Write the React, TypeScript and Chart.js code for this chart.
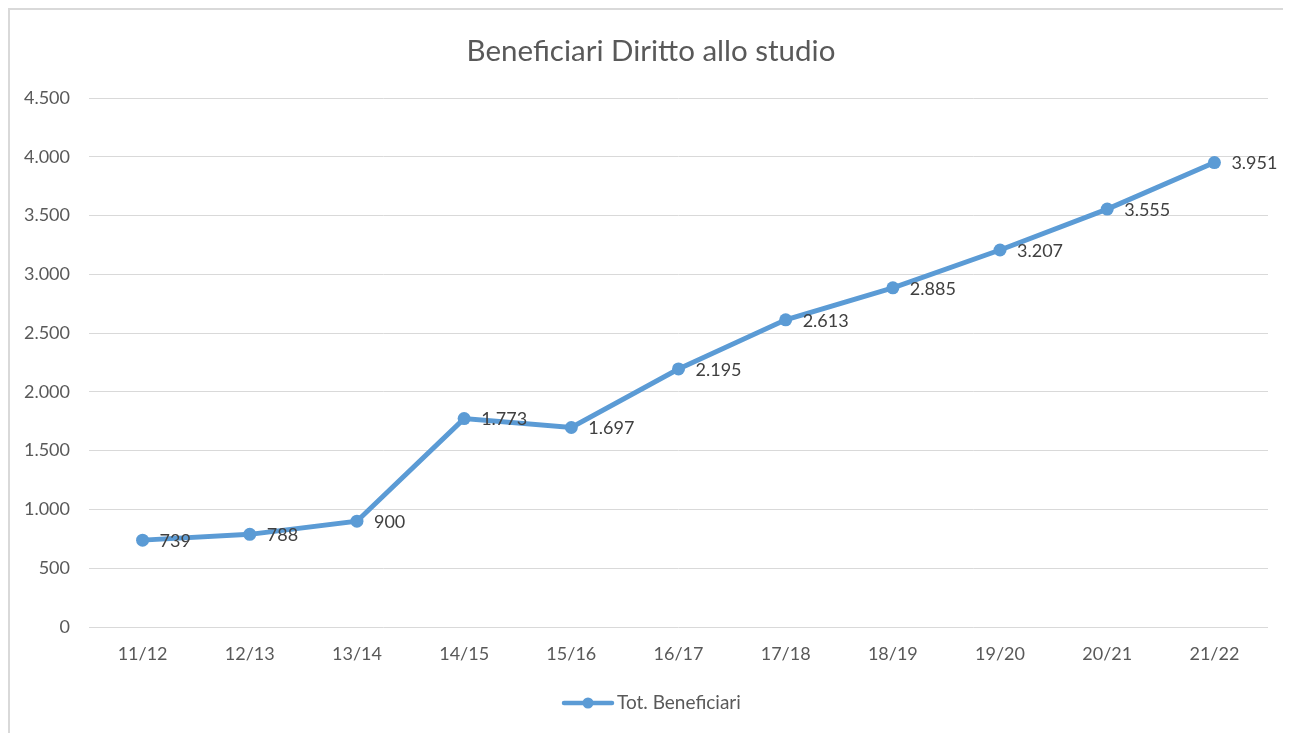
import React, { useEffect, useRef } from "react";
import { Chart, registerables } from "chart.js";

Chart.register(...registerables);

const categories = ["11/12", "12/13", "13/14", "14/15", "15/16", "16/17", "17/18", "18/19", "19/20", "20/21", "21/22"];
const beneficiari = [739, 788, 900, 1773, 1697, 2195, 2613, 2885, 3207, 3555, 3951];
const seriesName = "Tot. Beneficiari";
const chartTitle = "Beneficiari Diritto allo studio";
const yMin = 0;
const yMax = 4500;
const yStep = 500;

const FONT = "Lato, 'Open Sans', sans-serif";
const LINE_COLOR = "#5B9BD5";
const TEXT_COLOR = "#595959";

const fmt = (v: number) => String(Math.round(v)).replace(/\B(?=(\d{3})+(?!\d))/g, ".");

const dataLabelPlugin = {
  id: "dataLabels",
  afterDatasetsDraw(chart: any) {
    const ctx = chart.ctx;
    const meta = chart.getDatasetMeta(0);
    ctx.save();
    ctx.font = `18px ${FONT}`;
    ctx.fillStyle = "#404040";
    ctx.textAlign = "left";
    ctx.textBaseline = "middle";
    meta.data.forEach((pt: any, i: number) => {
      const v = chart.data.datasets[0].data[i];
      ctx.fillText(fmt(v), pt.x + 17, pt.y + 1);
    });
    ctx.restore();
  },
};

const titlePlugin = {
  id: "customTitle",
  afterDraw(chart: any) {
    const ctx = chart.ctx;
    ctx.save();
    ctx.font = `29.5px ${FONT}`;
    ctx.fillStyle = TEXT_COLOR;
    ctx.textAlign = "center";
    ctx.textBaseline = "middle";
    ctx.fillText(chartTitle, 641, 41.5);
    ctx.restore();
  },
};

const legendPlugin = {
  id: "customLegend",
  afterDraw(chart: any) {
    const ctx = chart.ctx;
    const cx = 578;
    const y = 693;
    ctx.save();
    ctx.strokeStyle = LINE_COLOR;
    ctx.lineWidth = 4.5;
    ctx.lineCap = "round";
    ctx.beginPath();
    ctx.moveTo(cx - 24, y);
    ctx.lineTo(cx + 24, y);
    ctx.stroke();
    ctx.fillStyle = LINE_COLOR;
    ctx.beginPath();
    ctx.arc(cx, y, 5.5, 0, Math.PI * 2);
    ctx.fill();
    ctx.font = `19px ${FONT}`;
    ctx.fillStyle = TEXT_COLOR;
    ctx.textAlign = "left";
    ctx.textBaseline = "middle";
    ctx.fillText(seriesName, cx + 29, y);
    ctx.restore();
  },
};

export default function App() {
  const ref = useRef<HTMLCanvasElement | null>(null);

  useEffect(() => {
    document.documentElement.style.overflow = "hidden";
    document.body.style.overflow = "hidden";
    if (!ref.current) return;
    const chart = new Chart(ref.current, {
      type: "line",
      data: {
        labels: categories,
        datasets: [
          {
            label: seriesName,
            data: beneficiari,
            borderColor: LINE_COLOR,
            backgroundColor: LINE_COLOR,
            borderWidth: 5,
            pointRadius: 6.5,
            pointBorderWidth: 0,
            pointBackgroundColor: LINE_COLOR,
            tension: 0,
            fill: false,
          },
        ],
      },
      options: {
        animation: false,
        responsive: false,
        maintainAspectRatio: false,
        layout: { padding: { left: 0, right: 20, top: 88, bottom: 0 } },
        plugins: {
          legend: { display: false },
          tooltip: { enabled: false },
          title: { display: false },
        },
        scales: {
          x: {
            type: "category",
            offset: true,
            grid: { display: false, drawTicks: false },
            border: { display: false },
            ticks: {
              color: TEXT_COLOR,
              font: { family: FONT, size: 18 },
              padding: 16,
              maxRotation: 0,
              autoSkip: false,
            },
            afterFit(scale: any) {
              scale.height = 723 - 617;
            },
          },
          y: {
            min: yMin,
            max: yMax,
            grid: { color: "#d9d9d9", lineWidth: 1, drawTicks: false },
            border: { display: false },
            ticks: {
              stepSize: yStep,
              color: TEXT_COLOR,
              font: { family: FONT, size: 18 },
              padding: 19,
              callback: (v: any) => fmt(Number(v)),
            },
            afterFit(scale: any) {
              scale.width = 79;
            },
          },
        },
      },
      plugins: [dataLabelPlugin, titlePlugin, legendPlugin],
    });
    return () => chart.destroy();
  }, []);

  return (
    <div
      style={{
        width: 1282,
        height: 727,
        border: "2px solid #d9d9d9",
        boxSizing: "border-box",
        background: "#fff",
      }}
    >
      <canvas ref={ref} width={1278} height={723} style={{ display: "block" }} />
    </div>
  );
}
